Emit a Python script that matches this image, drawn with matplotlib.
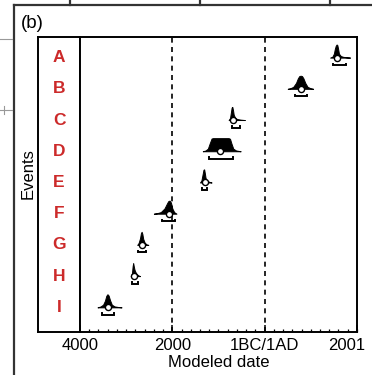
import matplotlib
matplotlib.use("Agg")
import matplotlib.pyplot as plt
import matplotlib.transforms as mtransforms
from matplotlib.lines import Line2D

plt.rcParams['font.family'] = ['Liberation Sans', 'DejaVu Sans']

# Modelled events (BC years negative, 0 = 1BC/1AD boundary)
events = ['A', 'B', 'C', 'D', 'E', 'F', 'G', 'H', 'I']
medians = [1573, 780, -680, -969, -1294, -2074, -2665, -2826, -3389]
range_lo = [1487, 657, -715, -1200, -1365, -2232, -2739, -2882, -3519]
range_hi = [1762, 923, -535, -680, -1244, -1944, -2579, -2739, -3259]

# posterior outlines: years and relative probability (peak = 1)
prob_years = [
    [1420, 1470, 1500, 1520, 1540, 1560, 1575, 1590, 1610, 1650, 1700, 1780, 1850],
    [500, 560, 620, 680, 720, 750, 780, 810, 840, 880, 930, 990, 1050],
    [-780, -750, -730, -715, -700, -685, -670, -640, -600, -520, -430],
    [-1340, -1280, -1230, -1190, -1150, -1120, -780, -750, -720, -680, -620, -520],
    [-1400, -1370, -1345, -1325, -1310, -1295, -1280, -1250, -1200, -1150],
    [-2400, -2330, -2250, -2170, -2120, -2090, -2060, -2030, -2000, -1960, -1910],
    [-2760, -2730, -2700, -2680, -2665, -2650, -2630, -2600, -2560, -2520],
    [-2900, -2875, -2860, -2848, -2835, -2820, -2800, -2770, -2730, -2700],
    [-3620, -3560, -3500, -3460, -3430, -3405, -3380, -3350, -3310, -3250, -3180, -3100],
]
prob_dens = [
    [0, 0.08, 0.3, 0.65, 0.9, 1.0, 0.95, 0.7, 0.3, 0.12, 0.06, 0.02, 0],
    [0, 0.05, 0.15, 0.45, 0.8, 0.97, 1.0, 0.97, 0.8, 0.45, 0.15, 0.05, 0],
    [0, 0.15, 0.6, 0.95, 1.0, 0.75, 0.4, 0.18, 0.08, 0.03, 0],
    [0, 0.06, 0.2, 0.6, 0.97, 1.0, 1.0, 0.95, 0.6, 0.2, 0.06, 0],
    [0, 0.15, 0.6, 0.97, 1.0, 0.7, 0.35, 0.12, 0.05, 0],
    [0, 0.04, 0.12, 0.4, 0.75, 0.95, 1.0, 0.85, 0.4, 0.12, 0],
    [0, 0.15, 0.5, 0.9, 1.0, 0.85, 0.45, 0.18, 0.04, 0],
    [0, 0.2, 0.75, 1.0, 0.75, 0.5, 0.32, 0.15, 0.05, 0],
    [0, 0.06, 0.2, 0.5, 0.88, 1.0, 0.9, 0.55, 0.2, 0.07, 0.03, 0],
]

tick_years = [-4000, -2000, 0, 2001]
tick_labels = ['4000', '2000', '1BC/1AD', '2001']

W, H = 372, 375
fig = plt.figure(figsize=(W / 100, H / 100), dpi=100)


def fx(px):
    return px / W


def fy(py):
    return 1 - py / H


# panel frame and the edge of the neighbouring panels
frame_kw = dict(transform=fig.transFigure, color='#333333', lw=1.6)
fig.add_artist(Line2D([fx(14), fx(14)], [fy(4.5), 0], **frame_kw))
fig.add_artist(Line2D([fx(14), 1], [fy(4.5), fy(4.5)], **frame_kw))
for sx in [70, 200, 330]:
    fig.add_artist(Line2D([fx(sx), fx(sx)], [1, fy(4.5)], **frame_kw))
stub_kw = dict(transform=fig.transFigure, color='#999999', lw=0.8)
fig.add_artist(Line2D([0, fx(12)], [fy(38.5), fy(38.5)], **stub_kw))
fig.add_artist(Line2D([0, fx(12)], [fy(110), fy(110)], **stub_kw))
fig.add_artist(Line2D([fx(4), fx(4)], [fy(106), fy(114)], **stub_kw))

fig.text(fx(21), fy(23), '(b)', fontsize=13.5, va='center', ha='left')

ylims = (8.79, -0.66)
rows = list(range(len(events)))

# label column
ax_lab = fig.add_axes([fx(38), fy(332), fx(80) - fx(38), fy(37) - fy(332)])
ax_lab.set_xlim(0, 1)
ax_lab.set_ylim(*ylims)
ax_lab.set_xticks([])
ax_lab.set_yticks([])
for sp in ax_lab.spines.values():
    sp.set_linewidth(1.4)
for r, ev in zip(rows, events):
    ax_lab.text(0.5, r, ev, color='#cc2a2a', fontsize=12.5, fontweight='bold',
                ha='center', va='center')

fig.text(fx(28), fy(174), 'Events', rotation=90, fontsize=12, ha='center', va='center')

# main plot
ax = fig.add_axes([fx(80), fy(332), fx(357) - fx(80), fy(37) - fy(332)])
ax.set_xlim(-4000, 2001)
ax.set_ylim(*ylims)
for sp in ax.spines.values():
    sp.set_linewidth(1.4)

for xv in [-2000, 0]:
    ax.axvline(xv, color='black', lw=1.2, linestyle=(0, (3, 2.6)), zorder=1)

PEAK = 0.42
for r, yrs, dens in zip(rows, prob_years, prob_dens):
    top = [r - PEAK * d for d in dens]
    ax.fill_between(yrs, [r] * len(yrs), top, color='black', lw=0.7, zorder=2)

# 95% ranges drawn as brackets below each distribution
for r, lo, hi in zip(rows, range_lo, range_hi):
    yb = r + 0.24
    ax.plot([lo, lo, hi, hi], [yb - 0.05, yb, yb, yb - 0.05], color='black',
            lw=1.4, solid_joinstyle='miter', zorder=2)

ax.plot(medians, rows, 'o', ms=4.4, mfc='white', mec='black', mew=1.0, zorder=3)

ax.set_xticks(tick_years)
ax.set_xticklabels(tick_labels, fontsize=12)
ax.set_xticks(list(range(-4000, 2001, 200)), minor=True)
ax.set_yticks([])
ax.tick_params(axis='x', which='major', direction='in', length=5, width=1.1, pad=4)
ax.tick_params(axis='x', which='minor', direction='in', length=2.5, width=0.9)
last = ax.get_xticklabels()[-1]
last.set_transform(last.get_transform()
                   + mtransforms.ScaledTranslation(-10 / 100, 0, fig.dpi_scale_trans))
ax.set_xlabel('Modeled date', fontsize=12, labelpad=2)

fig.savefig('out.png', dpi=100)
